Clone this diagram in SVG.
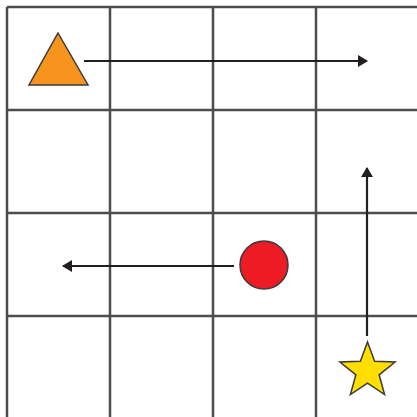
<svg xmlns="http://www.w3.org/2000/svg" width="417" height="417" viewBox="0 0 417 417">
<style>
.grid{stroke:#4d4d4d;stroke-width:2.5;fill:none}
.conn{stroke:#231f20;stroke-width:2.2;fill:none}
.shape{stroke:#3a3a3a;stroke-width:1.5;stroke-linejoin:miter}
</style>
<defs>
<marker id="ah" viewBox="0 0 10 12" refX="9" refY="6" markerWidth="10" markerHeight="12" markerUnits="userSpaceOnUse" orient="auto">
<path d="M0,0 L10,6 L0,12 Z" fill="#231f20"/>
</marker>
</defs>
<rect width="417" height="417" fill="#ffffff"/>
<g id="grid" class="grid">
<line x1="7" y1="7" x2="7" y2="417"/>
<line x1="110" y1="7" x2="110" y2="417"/>
<line x1="213" y1="7" x2="213" y2="417"/>
<line x1="316" y1="7" x2="316" y2="417"/>
<line x1="7" y1="7" x2="417" y2="7"/>
<line x1="7" y1="110" x2="417" y2="110"/>
<line x1="7" y1="213" x2="417" y2="213"/>
<line x1="7" y1="316" x2="417" y2="316"/>
</g>
<g id="connectors">
<line class="conn" x1="84" y1="61" x2="367" y2="61" marker-end="url(#ah)"/>
<line class="conn" x1="234" y1="266" x2="63" y2="266" marker-end="url(#ah)"/>
<line class="conn" x1="367" y1="336" x2="367" y2="168" marker-end="url(#ah)"/>
</g>
<g id="triangle">
<polygon class="shape" points="58,33 88,85 29,85" fill="#f7941d"/>
</g>
<g id="circle">
<circle class="shape" cx="264" cy="265" r="24" fill="#ed1c24"/>
</g>
<g id="star">
<polygon class="shape" fill="#ffde00" points="367.5,342 374.6,361.2 395.1,362 379.1,374.8 384.6,394.5 367.5,383.1 350.4,394.5 355.9,374.8 339.9,362 360.4,361.2"/>
</g>
</svg>
